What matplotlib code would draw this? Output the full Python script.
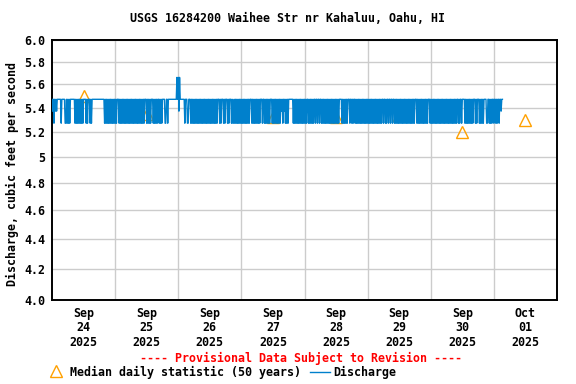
import matplotlib
matplotlib.use('Agg')
import matplotlib.pyplot as plt
from matplotlib.lines import Line2D
from matplotlib.ticker import FixedLocator, NullLocator
import pandas as pd

# 15-minute discharge record from Sep 24 00:00, one letter per reading
# h = 5.47, m = 5.37, l = 5.27, p = 5.66 cfs
flow_codes = (
    "hmhlhmhmhhhhhhlhhhhhllhlhlhlhhhhhhhlhlhlhlhlhlhlhhhhlhlhhhlhl"
    "hhhhhhhhhhhhhhhhhhhlhlhlhlhlhlhlhlhlhlhhhlhlhlhlhlhl"
    "hlhlhlhlhlhlhlhlhlhlhlhlhlhlhhhlhlhlhlhhhlhlhlhlhhlhlhlhhhhllhhl"
    "hhhhhhhhhhhhhphpmphhhhhhhlhhhllhhhlhlhlhlhlhlhlhlhlhlhlh"
    "lhlhlhlhlhlhlhlhlhlhhhlhlhhhlhlhhhlhlhhhlhllhlhlhlhlhlhlhlhlhlhlhlhl"
    "hhhlhlhlhlhlhlhlhhhlhhlhlhlhlhlhhhlhlhlhlhlh"
    "lhlhmhlhmhlhlhlhhhhhhhlhlhlhlhlhlhlhlhlhlhlhhlhlhlhlhlhhlhhlhhlhh"
    "lhlhlhlhlhlhlhlhlhlhlhlhlhlhhhhlhlhlhlhlhhhlhhlhlhhlhl"
    "hlhlhlhlhlhlhlhlhlhlhlhlhlhlhlhlhlhlhlhhlhhlhlhhlhhlhhlhhl"
    "hlhlhlhlhlhlhlhlhlhlhlhlhlhlhlhhhlhlhlhlhlhlhlhlhlhhhlhlhlh"
    "lhlhlhlhlhlhlhlhlhlhlhlhlhlhlhlhlhlhhlhlhhlhhhhlhlhlhlhlhlhlh"
    "hhlhlhhhlhlhlhlhhhhllhhlhlhlhhlhhlhlhhlhhmhh"
)
flow_levels = {"h": 5.47, "m": 5.37, "l": 5.27, "p": 5.66}

median_days = ["2025-09-24", "2025-09-25", "2025-09-26", "2025-09-27",
               "2025-09-28", "2025-09-29", "2025-09-30", "2025-10-01"]
median_vals = [5.5, 5.35, 5.35, 5.32, 5.32, 5.34, 5.2, 5.3]

day_labels = ["Sep\n24\n2025", "Sep\n25\n2025", "Sep\n26\n2025", "Sep\n27\n2025",
              "Sep\n28\n2025", "Sep\n29\n2025", "Sep\n30\n2025", "Oct\n01\n2025"]
y_ticks = [4.0, 4.2, 4.4, 4.6, 4.8, 5.0, 5.2, 5.4, 5.6, 5.8, 6.0]
y_labels = ["4.0", "4.2", "4.4", "4.6", "4.8", "5", "5.2", "5.4", "5.6", "5.8", "6.0"]

plt.rcParams['font.family'] = 'DejaVu Sans Mono'
plt.rcParams['font.weight'] = 'bold'
plt.rcParams['font.size'] = 8.4

start = pd.Timestamp("2025-09-24 00:00")
times = pd.date_range(start, periods=len(flow_codes), freq="15min")
flow = [flow_levels[c] for c in flow_codes]
med_times = pd.to_datetime(median_days) + pd.Timedelta(hours=12)

W, H = 576, 384
fig = plt.figure(figsize=(5.76, 3.84), dpi=100)
ax = fig.add_axes([52 / W, 1 - 300 / H, 505 / W, 260 / H])

ax.plot(med_times, median_vals, linestyle="none", marker="^", markersize=8,
        markerfacecolor="none", markeredgecolor="#ffa000", markeredgewidth=1.0, zorder=2)
ax.plot(times, flow, color="#0080cc", lw=1.0, zorder=3)

ax.set_yscale("log")
ax.set_ylim(4.0, 6.0)
ax.yaxis.set_major_locator(FixedLocator(y_ticks))
ax.yaxis.set_minor_locator(NullLocator())
ax.set_yticklabels(y_labels)

ax.set_xlim(start, start + pd.Timedelta(days=8))
ax.set_xticks(med_times)
ax.set_xticklabels(day_labels, linespacing=1.15)
ax.set_xticks(pd.date_range(start + pd.Timedelta(days=1), periods=7, freq="D"), minor=True)

ax.grid(which="minor", axis="x", color="#cccccc", lw=1.0)
ax.grid(which="major", axis="y", color="#cccccc", lw=1.0)
ax.set_axisbelow(True)
ax.tick_params(which="both", length=0)
ax.tick_params(axis="y", pad=5)
ax.tick_params(axis="x", pad=5)
for s in ax.spines.values():
    s.set_linewidth(1.4)

fig.text(288 / W, 1 - 19 / H, "USGS 16284200 Waihee Str nr Kahaluu, Oahu, HI",
         ha="center", va="center")
fig.text(12 / W, 1 - 174 / H, "Discharge, cubic feet per second",
         rotation=90, ha="center", va="center")
fig.text(301 / W, 1 - 358 / H, "---- Provisional Data Subject to Revision ----",
         color="red", ha="center", va="center")

fig.add_artist(Line2D([56 / W], [1 - 371 / H], transform=fig.transFigure,
                      marker="^", markersize=8, markerfacecolor="none",
                      markeredgecolor="#ffa000", markeredgewidth=1.0))
fig.text(70 / W, 1 - 372 / H, "Median daily statistic (50 years)", ha="left", va="center")
fig.add_artist(Line2D([310 / W, 330 / W], [1 - 372 / H, 1 - 372 / H],
                      transform=fig.transFigure, color="#0080cc", lw=1.0))
fig.text(333 / W, 1 - 372 / H, "Discharge", ha="left", va="center")

fig.savefig("out.png", dpi=100)
